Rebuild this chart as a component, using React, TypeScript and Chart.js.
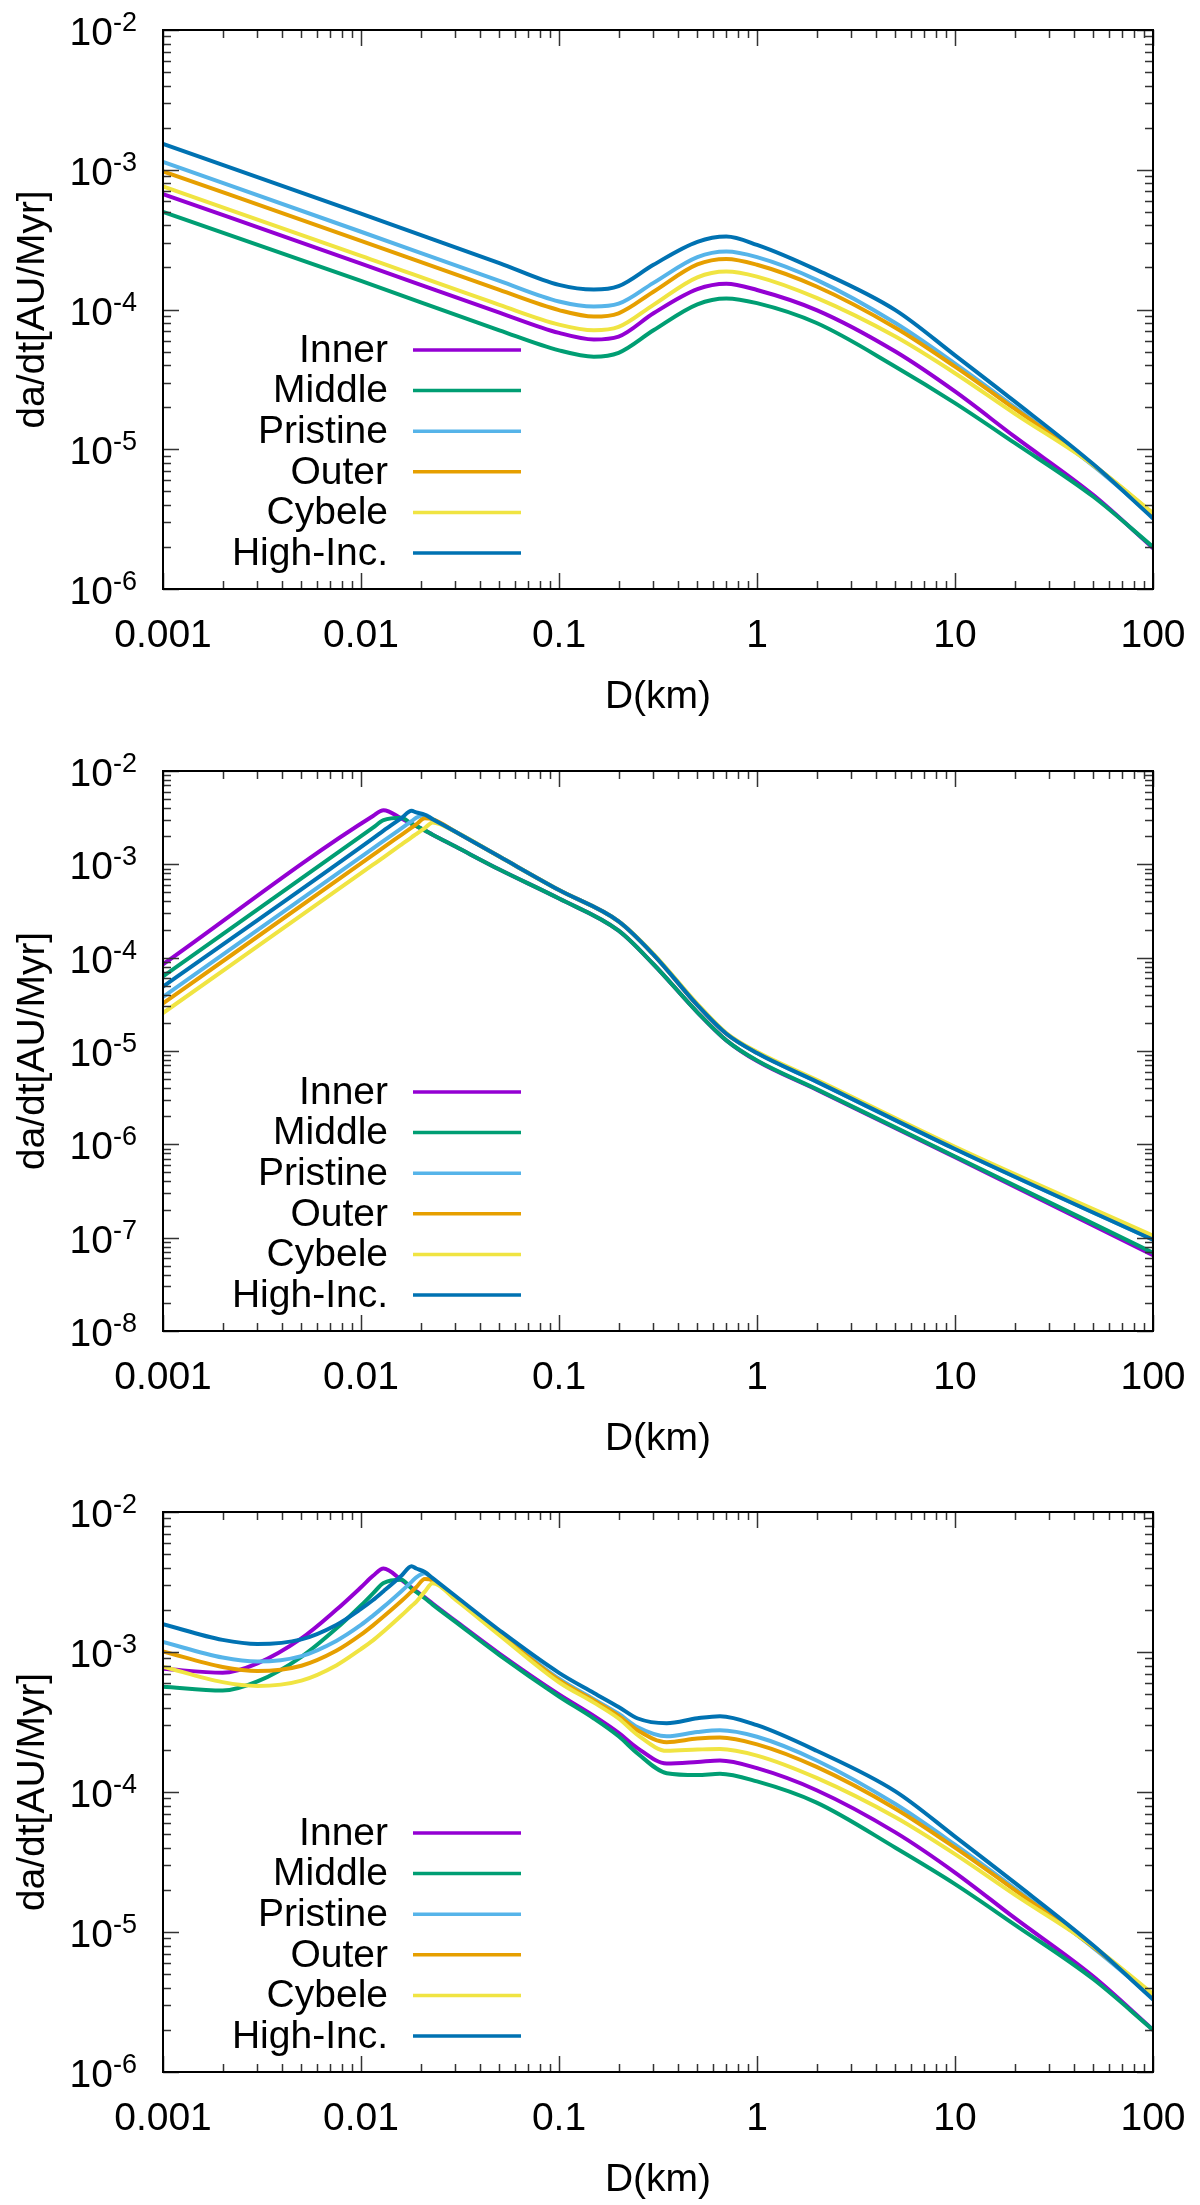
import React, { useEffect, useRef } from 'react';
import { Chart, registerables } from 'chart.js';

Chart.register(...registerables);

// series shared by the three panels
const seriesNames = ['Inner', 'Middle', 'Pristine', 'Outer', 'Cybele', 'High-Inc.'];
const seriesColors = ['#9400d3', '#009e73', '#56b4e9', '#e69f00', '#f0e442', '#0072b2'];
// gnuplot draws the later series on top
const seriesOrder = [5, 4, 3, 2, 1, 0];

const xTickValues = [0.001, 0.01, 0.1, 1, 10, 100];
const xTickLabels = ['0.001', '0.01', '0.1', '1', '10', '100'];
const yExpsShort = [-2, -3, -4, -5, -6];
const yExpsLong = [-2, -3, -4, -5, -6, -7, -8];

// panel 1
const D1 = [0.001, 0.01, 0.05, 0.1, 0.15, 0.2, 0.3, 0.5, 0.7, 1, 2, 5, 10, 20, 50, 100];
const inner1 = [6.7e-4, 2.13e-4, 9.5e-5, 6.8e-5, 6.1e-5, 6.4e-5, 9.4e-5, 1.4e-4, 1.53e-4, 1.38e-4, 9.9e-5, 5.0e-5, 2.59e-5, 1.23e-5, 4.7e-6, 1.96e-6];
const middle1 = [5.0e-4, 1.6e-4, 7.1e-5, 5.1e-5, 4.6e-5, 4.9e-5, 7.1e-5, 1.09e-4, 1.2e-4, 1.11e-4, 8.0e-5, 3.9e-5, 2.14e-5, 1.11e-5, 4.57e-6, 2.0e-6];
const pristine1 = [1.14e-3, 3.6e-4, 1.6e-4, 1.14e-4, 1.05e-4, 1.1e-4, 1.55e-4, 2.37e-4, 2.6e-4, 2.37e-4, 1.63e-4, 8.0e-5, 4.1e-5, 2.0e-5, 7.6e-6, 3.3e-6];
const outer1 = [9.75e-4, 3.1e-4, 1.38e-4, 9.9e-5, 8.9e-5, 9.4e-5, 1.34e-4, 2.1e-4, 2.3e-4, 2.09e-4, 1.46e-4, 7.4e-5, 3.9e-5, 1.95e-5, 7.7e-6, 3.45e-6];
const cybele1 = [7.6e-4, 2.42e-4, 1.08e-4, 7.8e-5, 7.1e-5, 7.5e-5, 1.08e-4, 1.7e-4, 1.87e-4, 1.72e-4, 1.21e-4, 6.4e-5, 3.5e-5, 1.8e-5, 7.7e-6, 3.5e-6];
const highInc1 = [1.53e-3, 4.85e-4, 2.15e-4, 1.5e-4, 1.39e-4, 1.47e-4, 2.09e-4, 3.05e-4, 3.33e-4, 2.9e-4, 1.92e-4, 9.9e-5, 4.7e-5, 2.2e-5, 7.8e-6, 3.2e-6];

// panel 2
const D2 = [0.001, 0.0115, 0.013, 0.016, 0.018, 0.019, 0.021, 0.023, 0.03, 0.05, 0.1, 0.2, 0.3, 0.5, 0.7, 1, 2, 10, 100];
const inner2 = [8.5e-5, 3.3e-3, 3.8e-3, 3.1e-3, 2.72e-3, 2.57e-3, 2.31e-3, 2.08e-3, 1.55e-3, 8.8e-4, 4.3e-4, 1.95e-4, 8.5e-5, 2.6e-5, 1.3e-5, 7.8e-6, 3.85e-6, 7.3e-7, 6.5e-8];
const middle2 = [6.3e-5, 2.47e-3, 2.97e-3, 3.15e-3, 2.72e-3, 2.57e-3, 2.31e-3, 2.08e-3, 1.55e-3, 8.8e-4, 4.3e-4, 1.95e-4, 8.5e-5, 2.6e-5, 1.3e-5, 7.9e-6, 3.9e-6, 7.4e-7, 6.9e-8];
const pristine2 = [3.8e-5, 1.48e-3, 1.78e-3, 2.43e-3, 2.9e-3, 3.15e-3, 3.4e-3, 3.05e-3, 2.23e-3, 1.21e-3, 5.3e-4, 2.45e-4, 1.08e-4, 3.1e-5, 1.53e-5, 9.5e-6, 4.7e-6, 8.9e-7, 9.5e-8];
const outer2 = [3.24e-5, 1.26e-3, 1.52e-3, 2.07e-3, 2.47e-3, 2.68e-3, 3.11e-3, 3.05e-3, 2.23e-3, 1.21e-3, 5.3e-4, 2.45e-4, 1.08e-4, 3.1e-5, 1.53e-5, 9.6e-6, 4.8e-6, 9.1e-7, 1.0e-7];
const cybele2 = [2.55e-5, 9.9e-4, 1.19e-3, 1.63e-3, 1.95e-3, 2.11e-3, 2.45e-3, 2.81e-3, 2.23e-3, 1.21e-3, 5.3e-4, 2.45e-4, 1.1e-4, 3.2e-5, 1.56e-5, 9.8e-6, 4.9e-6, 9.4e-7, 1.05e-7];
const highInc2 = [4.9e-5, 1.9e-3, 2.3e-3, 3.13e-3, 3.74e-3, 3.6e-3, 3.4e-3, 3.05e-3, 2.23e-3, 1.21e-3, 5.3e-4, 2.45e-4, 1.08e-4, 3.1e-5, 1.53e-5, 9.5e-6, 4.7e-6, 8.9e-7, 9.5e-8];

// panel 3
const D3 = [0.001, 0.002, 0.003, 0.005, 0.0075, 0.01, 0.0115, 0.013, 0.016, 0.018, 0.019, 0.021, 0.023, 0.03, 0.05, 0.1, 0.15, 0.2, 0.25, 0.35, 0.5, 0.65, 1, 2, 5, 10, 20, 50, 100];
const inner3 = [7.6e-4, 7.1e-4, 8.3e-4, 1.25e-3, 2.0e-3, 2.9e-3, 3.5e-3, 3.95e-3, 3.27e-3, 2.88e-3, 2.72e-3, 2.46e-3, 2.22e-3, 1.67e-3, 9.75e-4, 4.98e-4, 3.5e-4, 2.65e-4, 2.05e-4, 1.6e-4, 1.64e-4, 1.68e-4, 1.48e-4, 1.03e-4, 5.15e-5, 2.66e-5, 1.26e-5, 4.8e-6, 2.0e-6];
const middle3 = [5.65e-4, 5.3e-4, 6.16e-4, 9.24e-4, 1.47e-3, 2.15e-3, 2.62e-3, 3.11e-3, 3.28e-3, 2.84e-3, 2.69e-3, 2.42e-3, 2.18e-3, 1.64e-3, 9.5e-4, 4.81e-4, 3.35e-4, 2.5e-4, 1.88e-4, 1.36e-4, 1.32e-4, 1.35e-4, 1.19e-4, 8.4e-5, 4.0e-5, 2.2e-5, 1.13e-5, 4.6e-6, 2.0e-6];
const pristine3 = [1.18e-3, 9.13e-4, 8.55e-4, 9.35e-4, 1.2e-3, 1.56e-3, 1.82e-3, 2.1e-3, 2.72e-3, 3.17e-3, 3.41e-3, 3.65e-3, 3.29e-3, 2.44e-3, 1.37e-3, 6.44e-4, 4.6e-4, 3.62e-4, 2.9e-4, 2.5e-4, 2.68e-4, 2.76e-4, 2.48e-4, 1.68e-4, 8.2e-5, 4.2e-5, 2.05e-5, 7.7e-6, 3.4e-6];
const outer3 = [1.01e-3, 7.81e-4, 7.31e-4, 7.98e-4, 1.02e-3, 1.33e-3, 1.55e-3, 1.79e-3, 2.31e-3, 2.7e-3, 2.9e-3, 3.32e-3, 3.25e-3, 2.41e-3, 1.35e-3, 6.29e-4, 4.5e-4, 3.5e-4, 2.75e-4, 2.27e-4, 2.41e-4, 2.45e-4, 2.19e-4, 1.51e-4, 7.6e-5, 4.0e-5, 2.0e-5, 7.8e-6, 3.55e-6];
const cybele3 = [7.86e-4, 6.09e-4, 5.72e-4, 6.25e-4, 8.02e-4, 1.05e-3, 1.21e-3, 1.4e-3, 1.82e-3, 2.13e-3, 2.28e-3, 2.7e-3, 3.1e-3, 2.37e-3, 1.32e-3, 6.08e-4, 4.35e-4, 3.35e-4, 2.55e-4, 1.97e-4, 2.01e-4, 2.03e-4, 1.82e-4, 1.26e-4, 6.6e-5, 3.6e-5, 1.85e-5, 7.9e-6, 3.6e-6];
const highInc3 = [1.58e-3, 1.22e-3, 1.14e-3, 1.23e-3, 1.56e-3, 2.03e-3, 2.35e-3, 2.72e-3, 3.51e-3, 4.1e-3, 3.95e-3, 3.73e-3, 3.37e-3, 2.51e-3, 1.43e-3, 7.1e-4, 5.1e-4, 4.05e-4, 3.35e-4, 3.1e-4, 3.36e-4, 3.48e-4, 3.0e-4, 1.97e-4, 1.01e-4, 4.8e-5, 2.25e-5, 8.0e-6, 3.3e-6];

const FONT = '"Liberation Sans", Arial, Helvetica, sans-serif';

// inward gnuplot-style ticks, frame, tick labels, titles and key
const gnuplotLook = {
  id: 'gnuplotLook',
  afterDraw(chart: any, _args: any, opts: any) {
    const { ctx } = chart;
    const { left, right, top, bottom } = chart.chartArea;
    const xs = chart.scales.x;
    const ys = chart.scales.y;
    const exps: number[] = opts.yExps;
    ctx.save();

    // ticks
    ctx.strokeStyle = '#333';
    ctx.lineWidth = 1.5;
    ctx.beginPath();
    const xTick = (v: number, len: number) => {
      const p = Math.round(xs.getPixelForValue(v)) + 0.5;
      ctx.moveTo(p, bottom); ctx.lineTo(p, bottom - len);
      ctx.moveTo(p, top); ctx.lineTo(p, top + len);
    };
    const yTick = (v: number, len: number) => {
      const p = Math.round(ys.getPixelForValue(v)) + 0.5;
      ctx.moveTo(left, p); ctx.lineTo(left + len, p);
      ctx.moveTo(right, p); ctx.lineTo(right - len, p);
    };
    xTickValues.forEach((v, i) => {
      xTick(v, 16);
      if (i < xTickValues.length - 1) for (let m = 2; m < 10; m++) xTick(v * m, 8);
    });
    exps.forEach((e, i) => {
      yTick(Math.pow(10, e), 16);
      if (i > 0) for (let m = 2; m < 10; m++) yTick(Math.pow(10, e) * m, 8);
    });
    ctx.stroke();

    // frame
    ctx.strokeStyle = '#000';
    ctx.lineWidth = 2;
    ctx.strokeRect(left, top, right - left, bottom - top);

    // x tick labels
    ctx.fillStyle = '#000';
    ctx.font = `39px ${FONT}`;
    ctx.textAlign = 'center';
    ctx.textBaseline = 'alphabetic';
    xTickValues.forEach((v, i) => {
      ctx.fillText(xTickLabels[i], xs.getPixelForValue(v), bottom + 58);
    });

    // y tick labels: 10 with a raised exponent
    exps.forEach((e) => {
      const p = ys.getPixelForValue(Math.pow(10, e));
      const expText = String(e);
      ctx.font = `27px ${FONT}`;
      ctx.textAlign = 'right';
      const w = ctx.measureText(expText).width;
      ctx.fillText(expText, left - 26, p + 1);
      ctx.font = `39px ${FONT}`;
      ctx.fillText('10', left - 26 - w, p + 15);
    });

    // axis titles
    ctx.font = `39px ${FONT}`;
    ctx.textAlign = 'center';
    ctx.textBaseline = 'middle';
    ctx.fillText('D(km)', (left + right) / 2, bottom + 108);
    ctx.save();
    ctx.translate(33, (top + bottom) / 2);
    ctx.rotate(-Math.PI / 2);
    ctx.fillText('da/dt[AU/Myr]', 0, 0);
    ctx.restore();

    // key, bottom-left, text right-aligned before the sample
    seriesNames.forEach((name, i) => {
      const yRow = bottom - 36 - (seriesNames.length - 1 - i) * 40.6;
      ctx.font = `39px ${FONT}`;
      ctx.textAlign = 'right';
      ctx.fillStyle = '#000';
      ctx.fillText(name, left + 225, yRow + 1);
      ctx.strokeStyle = seriesColors[i];
      ctx.lineWidth = 3.5;
      ctx.beginPath();
      ctx.moveTo(left + 250, yRow);
      ctx.lineTo(left + 358, yRow);
      ctx.stroke();
    });

    ctx.restore();
  },
};

type PanelProps = {
  D: number[];
  values: number[][];
  yMin: number;
  yMax: number;
  yExps: number[];
  height: number;
  padBottom: number;
};

const Panel: React.FC<PanelProps> = ({ D, values, yMin, yMax, yExps, height, padBottom }) => {
  const canvasRef = useRef<HTMLCanvasElement>(null);

  useEffect(() => {
    if (!canvasRef.current) return;
    const chart = new Chart(canvasRef.current, {
      type: 'line',
      data: {
        datasets: seriesNames.map((name, s) => ({
          label: name,
          data: D.map((d, i) => ({ x: d, y: values[s][i] })),
          borderColor: seriesColors[s],
          borderWidth: 4,
          pointRadius: 0,
          fill: false,
          cubicInterpolationMode: 'monotone' as const,
          order: seriesOrder[s],
        })),
      },
      options: {
        responsive: false,
        animation: false,
        events: [],
        layout: { padding: { left: 163, right: 47, top: 30, bottom: padBottom } },
        scales: {
          x: { type: 'logarithmic', min: 0.001, max: 100, display: false },
          y: { type: 'logarithmic', min: yMin, max: yMax, display: false },
        },
        plugins: {
          legend: { display: false },
          tooltip: { enabled: false },
          // @ts-ignore custom plugin options
          gnuplotLook: { yExps },
        },
      },
      plugins: [gnuplotLook],
    });
    return () => chart.destroy();
  }, [D, values, yMin, yMax, yExps, padBottom]);

  return (
    <div style={{ width: 1200, height }}>
      <canvas ref={canvasRef} width={1200} height={height} style={{ display: 'block', width: 1200, height }} />
    </div>
  );
};

const panel1 = [inner1, middle1, pristine1, outer1, cybele1, highInc1];
const panel2 = [inner2, middle2, pristine2, outer2, cybele2, highInc2];
const panel3 = [inner3, middle3, pristine3, outer3, cybele3, highInc3];

const App: React.FC = () => (
  <div style={{ width: 1200, background: '#fff' }}>
    <style>{'body { margin: 0; background: #fff; }'}</style>
    <Panel D={D1} values={panel1} yMin={1e-6} yMax={1e-2} yExps={yExpsShort} height={741} padBottom={152} />
    <Panel D={D2} values={panel2} yMin={1e-8} yMax={1e-2} yExps={yExpsLong} height={741} padBottom={151} />
    <Panel D={D3} values={panel3} yMin={1e-6} yMax={1e-2} yExps={yExpsShort} height={723} padBottom={133} />
  </div>
);

export default App;
